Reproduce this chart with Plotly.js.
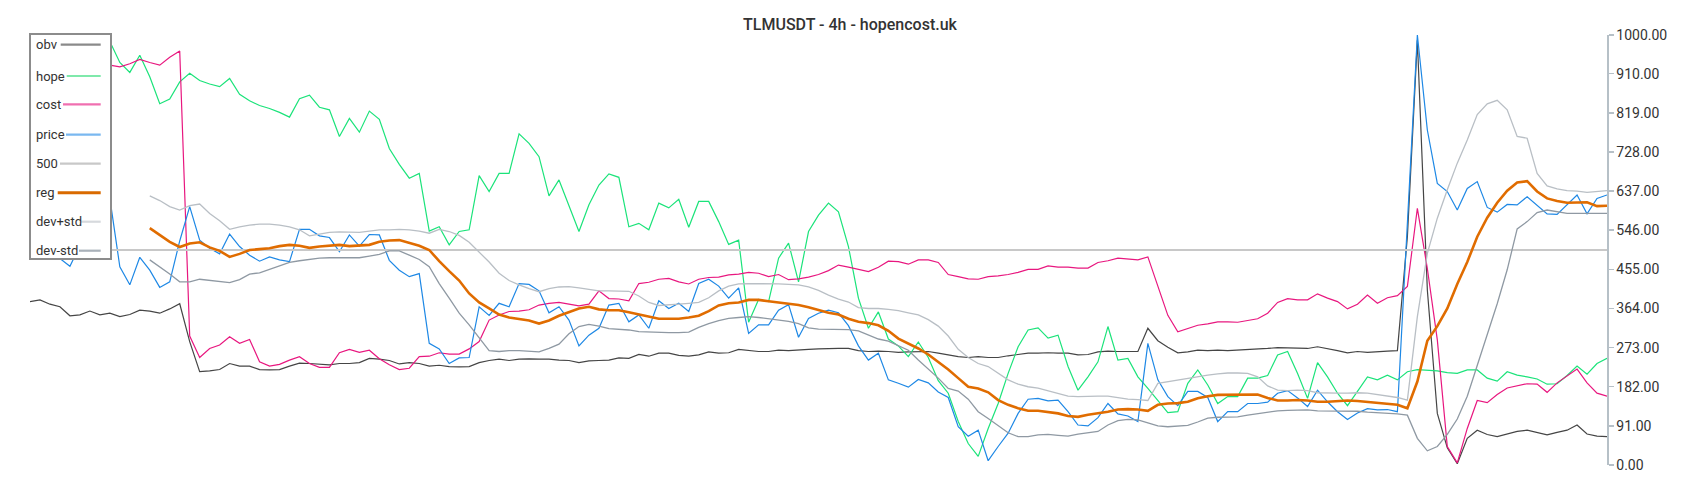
<!DOCTYPE html>
<html>
<head>
<meta charset="utf-8">
<script src="https://cdn.plot.ly/plotly-3.0.1.min.js"></script>
<style>
  html, body { margin: 0; padding: 0; background: #ffffff; }
  #chart { width: 1700px; height: 500px; }
</style>
</head>
<body>
<div id="chart"></div>
<script>
// ---------------- data ----------------
const chartTitle = "TLMUSDT - 4h - hopencost.uk";
const seriesNames = ["obv", "hope", "cost", "price", "500", "reg", "dev+std", "dev-std"];
const yTicks = [0, 91, 182, 273, 364, 455, 546, 637, 728, 819, 910, 1000];
const level500 = 500;

const obv = [
  380, 384, 374, 368, 347, 349, 358, 349, 353, 345, 350, 360, 358, 353, 363, 375, 287, 217, 219, 222, 236, 230, 230, 222, 221, 222, 230, 237, 236, 234, 233, 236,
  236, 238, 248, 246, 243, 235, 238, 236, 230, 232, 229, 228, 229, 238, 243, 246, 243, 246, 247, 246, 246, 244, 243, 238, 242, 243, 244, 249, 248, 257, 253, 260,
  260, 255, 253, 256, 263, 260, 261, 269, 266, 264, 264, 267, 266, 268, 269, 270, 271, 271, 271, 266, 264, 265, 264, 262, 263, 264, 264, 260, 256, 252, 250, 252,
  250, 250, 254, 257, 260, 260, 261, 260, 260, 256, 257, 263, 265, 264, 264, 264, 318, 289, 274, 261, 263, 267, 266, 267, 266, 267, 269, 269, 271, 273, 272, 271,
  271, 275, 271, 266, 261, 264, 262, 264, 265, 266, 531, 988, 407, 120, 40, 3, 62, 81, 71, 66, 72, 78, 81, 75, 70, 76, 81, 93, 72, 67, 66
];
const hope = [
  960, 975, 990, 970, 985, 995, 980, 990, 985, 936, 913, 953, 903, 840, 851, 891, 911, 894, 886, 880, 899, 862, 847, 836, 829, 820, 809, 852, 860, 832, 826, 764,
  806, 774, 823, 804, 736, 699, 667, 678, 544, 554, 512, 543, 547, 673, 636, 678, 678, 770, 748, 717, 626, 663, 605, 543, 605, 651, 677, 669, 554, 562, 547, 609,
  598, 618, 553, 613, 613, 566, 513, 523, 332, 385, 380, 481, 516, 426, 543, 581, 609, 589, 508, 388, 318, 356, 293, 277, 252, 286, 250, 196, 167, 101, 50, 20,
  85, 143, 213, 275, 314, 319, 295, 302, 229, 174, 205, 240, 322, 244, 248, 205, 178, 151, 122, 124, 190, 221, 186, 143, 159, 159, 202, 202, 208, 256, 264, 213,
  155, 238, 205, 167, 138, 171, 205, 198, 209, 198, 217, 222, 221, 219, 215, 213, 221, 221, 202, 195, 217, 209, 205, 200, 188, 189, 208, 230, 211, 236, 248
];
const cost = [
  900, 915, 925, 910, 930, 920, 935, 925, 930, 926, 933, 943, 936, 930, 948, 963, 300, 250, 271, 279, 298, 283, 292, 240, 230, 234, 244, 252, 236, 227, 227, 261,
  269, 262, 267, 247, 233, 222, 225, 252, 253, 261, 258, 258, 270, 287, 337, 349, 357, 358, 361, 372, 376, 378, 374, 370, 374, 405, 387, 386, 382, 422, 425, 432,
  434, 426, 421, 432, 436, 437, 442, 444, 448, 446, 438, 443, 431, 433, 437, 443, 452, 465, 460, 455, 450, 460, 474, 473, 467, 477, 477, 471, 443, 438, 433, 432,
  438, 440, 443, 448, 455, 455, 463, 460, 460, 458, 458, 471, 475, 481, 479, 477, 484, 414, 348, 310, 318, 325, 328, 333, 333, 332, 336, 340, 353, 378, 387, 384,
  384, 398, 388, 380, 363, 374, 395, 376, 389, 394, 415, 597, 457, 291, 43, 5, 85, 150, 145, 164, 179, 184, 189, 188, 169, 191, 208, 223, 191, 167, 160
];
const price = [
  520, 505, 490, 480, 462, 510, 560, 600, 620, 461, 419, 483, 453, 413, 426, 521, 601, 523, 504, 491, 537, 508, 488, 474, 484, 477, 473, 548, 548, 533, 529, 496,
  535, 509, 536, 535, 476, 453, 438, 445, 283, 270, 236, 249, 250, 368, 348, 376, 368, 422, 420, 405, 354, 368, 337, 277, 302, 318, 372, 376, 333, 349, 318, 382,
  364, 376, 357, 422, 432, 416, 388, 412, 306, 326, 326, 360, 373, 297, 341, 353, 360, 354, 324, 277, 244, 260, 198, 190, 181, 199, 191, 170, 157, 89, 67, 81,
  10, 43, 74, 120, 153, 155, 149, 151, 124, 93, 91, 110, 143, 119, 114, 101, 283, 198, 159, 138, 171, 171, 157, 101, 124, 124, 143, 143, 146, 167, 173, 156,
  136, 174, 147, 124, 106, 121, 131, 128, 129, 124, 550, 1000, 779, 655, 636, 593, 643, 659, 599, 588, 606, 605, 624, 603, 584, 583, 605, 628, 584, 620, 628
];
const reg = [
  null, null, null, null, null, null, null, null, null, null, null, null, 551, 535, 519, 507, 515, 518, 506, 498, 484, 491, 500, 502, 504, 509, 512, 510, 505, 508, 510, 512,
  509, 510, 512, 519, 522, 523, 517, 510, 500, 474, 451, 429, 399, 378, 364, 350, 343, 340, 336, 329, 336, 347, 356, 364, 368, 362, 360, 360, 355, 350, 344, 340,
  340, 340, 343, 347, 358, 371, 376, 378, 384, 384, 381, 378, 376, 372, 367, 360, 354, 350, 340, 333, 330, 325, 312, 294, 283, 271, 257, 240, 222, 202, 182, 178,
  169, 151, 140, 132, 126, 126, 123, 120, 114, 112, 117, 120, 124, 129, 130, 129, 126, 140, 143, 144, 147, 155, 160, 163, 163, 163, 163, 164, 156, 150, 150, 151,
  150, 147, 147, 148, 150, 149, 147, 144, 142, 140, 132, 194, 289, 323, 364, 421, 472, 531, 575, 610, 638, 657, 660, 636, 620, 614, 610, 611, 611, 602, 603
];
const devPlus = [
  null, null, null, null, null, null, null, null, null, null, null, null, 626, 615, 601, 593, 603, 607, 585, 568, 548, 554, 558, 560, 560, 558, 554, 547, 533, 537, 541, 542,
  541, 541, 544, 547, 547, 548, 547, 544, 539, 548, 543, 534, 518, 495, 472, 446, 429, 419, 410, 403, 410, 414, 415, 412, 408, 405, 405, 405, 404, 393, 378, 371,
  372, 374, 376, 378, 389, 405, 416, 421, 422, 422, 421, 421, 420, 419, 414, 406, 395, 386, 379, 366, 364, 364, 362, 359, 354, 349, 338, 323, 300, 269, 250, 236,
  229, 213, 198, 188, 182, 179, 173, 167, 160, 159, 160, 160, 160, 156, 153, 152, 150, 190, 194, 198, 202, 205, 209, 212, 214, 214, 213, 205, 184, 174, 173, 174,
  173, 168, 167, 167, 167, 168, 167, 164, 160, 157, 151, 345, 492, 574, 640, 702, 756, 815, 840, 848, 826, 764, 760, 678, 649, 642, 638, 637, 634, 636, 638
];
const devMinus = [
  null, null, null, null, null, null, null, null, null, null, null, null, 477, 461, 444, 426, 426, 432, 429, 426, 424, 431, 444, 447, 455, 463, 471, 475, 478, 481, 482, 482,
  481, 482, 486, 490, 498, 498, 488, 478, 461, 422, 388, 353, 326, 297, 266, 264, 266, 266, 264, 263, 271, 281, 305, 322, 327, 323, 317, 316, 314, 310, 309, 308,
  308, 308, 309, 320, 329, 336, 341, 343, 345, 343, 340, 336, 334, 329, 319, 316, 316, 316, 315, 312, 303, 293, 288, 277, 267, 244, 223, 202, 178, 172, 153, 124,
  108, 91, 75, 66, 66, 70, 71, 69, 67, 72, 75, 78, 93, 103, 106, 105, 98, 91, 89, 90, 92, 100, 109, 111, 112, 112, 116, 119, 123, 126, 127, 128,
  128, 126, 126, 126, 126, 125, 123, 122, 120, 119, 116, 62, 33, 43, 71, 107, 160, 233, 306, 375, 454, 549, 566, 587, 593, 589, 585, 585, 585, 585, 585
];

// candle index along the x axis
const candle = obv.map((_, i) => i);
const lastCandle = candle[candle.length - 1];

// ---------------- styles ----------------
const lineColors  = ["#454545", "#1be37a", "#e8177f", "#1e88e5", "#c8c8c8", "#e06c00", "#b9bfc5", "#8f99a3"];
const lineWidths  = [1.2, 1.2, 1.2, 1.2, 2, 2.6, 1.3, 1.3];
const legendColors = ["#8a8a8a", "#7fe9ab", "#f06fb0", "#7ab8f0", "#c8c8c8", "#d96a00", "#d6d9dd", "#a9b1b9"];

const seriesValues = [obv, hope, cost, price, null, reg, devPlus, devMinus];

const traces = seriesNames.map((name, k) => {
  if (name === "500") {
    return {
      type: "scatter", mode: "lines", name: name,
      x: [candle[0], lastCandle], y: [level500, level500],
      line: { color: lineColors[k], width: lineWidths[k] },
      hoverinfo: "skip", showlegend: false
    };
  }
  return {
    type: "scatter", mode: "lines", name: name,
    x: candle, y: seriesValues[k],
    line: { color: lineColors[k], width: lineWidths[k] },
    connectgaps: false, showlegend: false
  };
});

// ---------------- layout ----------------
const W = 1700, H = 500;
const M = { l: 30, r: 93, t: 35, b: 35 };
const plotW = W - M.l - M.r, plotH = H - M.t - M.b;
const px = x => (x - M.l) / plotW;          // page pixel -> paper x
const py = y => (H - M.b - y) / plotH;      // page pixel -> paper y

// custom legend (text on the left, line sample on the right)
const legendBox = { x0: 30, x1: 111, y0: 34, y1: 259 };
const rowY = [44.7, 76, 104.3, 134.7, 163.7, 192.7, 221.7, 250.7];
const sampleStart = [60.7, 66.7, 63, 66, 60, 57.7, 81, 79];
const sampleEnd = 100.7;

const shapes = [{
  type: "rect", xref: "paper", yref: "paper", layer: "above",
  x0: px(legendBox.x0), x1: px(legendBox.x1), y0: py(legendBox.y1), y1: py(legendBox.y0),
  fillcolor: "#ffffff", line: { color: "#8c8c8c", width: 2 }
}];
const annotations = [];
seriesNames.forEach((name, k) => {
  shapes.push({
    type: "line", xref: "paper", yref: "paper", layer: "above",
    x0: px(sampleStart[k]), x1: px(sampleEnd), y0: py(rowY[k]), y1: py(rowY[k]),
    line: { color: legendColors[k], width: name === "reg" ? 3 : 2.2 }
  });
  annotations.push({
    xref: "paper", yref: "paper", x: px(34), y: py(rowY[k]),
    xanchor: "left", yanchor: "middle", showarrow: false,
    text: name, font: { family: "Roboto, 'Open Sans', sans-serif", size: 13, color: "#333333" }
  });
});

const layout = {
  width: W, height: H,
  margin: M,
  paper_bgcolor: "#ffffff", plot_bgcolor: "#ffffff",
  showlegend: false,
  title: {
    text: chartTitle, xref: "container", x: 0.5, xanchor: "center",
    yref: "container", y: 1 - 24 / H, yanchor: "middle",
    font: { family: "Roboto, 'Open Sans', sans-serif", size: 16, color: "#333333", weight: 500 }
  },
  xaxis: {
    range: [candle[0], lastCandle], visible: false, showgrid: false, zeroline: false, fixedrange: true
  },
  yaxis: {
    side: "right", range: [yTicks[0], yTicks[yTicks.length - 1]],
    tickmode: "array", tickvals: yTicks, ticktext: yTicks.map(v => v.toFixed(2)),
    showline: true, linecolor: "#b6c0c7", linewidth: 1.5,
    ticks: "outside", ticklen: 5, tickwidth: 1.5, tickcolor: "#b6c0c7",
    tickfont: { family: "Roboto, 'Open Sans', sans-serif", size: 14, color: "#333333" },
    showgrid: false, zeroline: false, fixedrange: true
  },
  shapes: shapes,
  annotations: annotations
};

Plotly.newPlot("chart", traces, layout, { displayModeBar: false, staticPlot: true });
</script>
</body>
</html>
